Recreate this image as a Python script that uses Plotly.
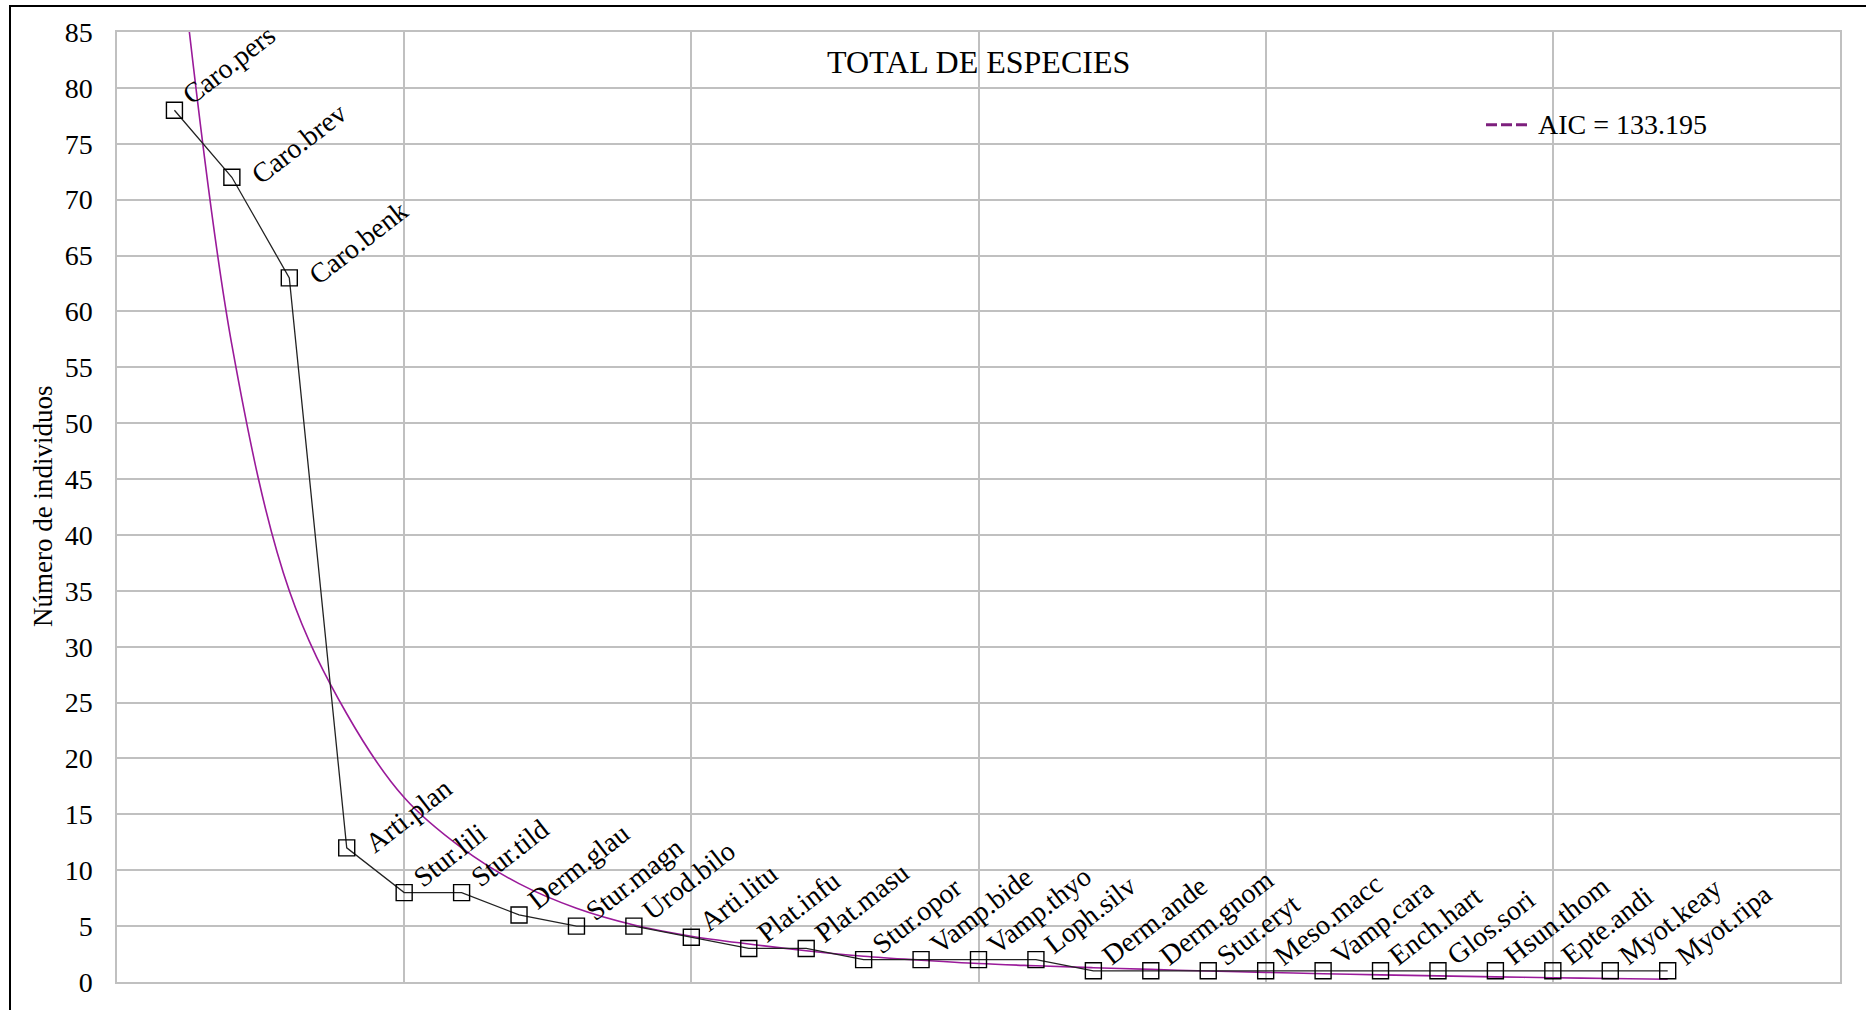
import plotly.graph_objects as go

# Species abbreviations in rank order
species = [
    "Caro.pers", "Caro.brev", "Caro.benk", "Arti.plan", "Stur.lili", "Stur.tild",
    "Derm.glau", "Stur.magn", "Urod.bilo", "Arti.litu", "Plat.infu", "Plat.masu",
    "Stur.opor", "Vamp.bide", "Vamp.thyo", "Loph.silv", "Derm.ande", "Derm.gnom",
    "Stur.eryt", "Meso.macc", "Vamp.cara", "Ench.hart", "Glos.sori", "Hsun.thom",
    "Epte.andi", "Myot.keay", "Myot.ripa",
]
ranks = list(range(1, len(species) + 1))

# Observed abundance per species
abundance = [78, 72, 63, 12, 8, 8, 6, 5, 5, 4, 3, 3, 2, 2, 2, 2,
             1, 1, 1, 1, 1, 1, 1, 1, 1, 1, 1]

# Fitted rank-abundance model values
fitted = [97, 57, 35, 24, 16.5, 12, 8.8, 6.6, 5.1, 4.1, 3.4, 2.8, 2.3, 1.95,
          1.65, 1.45, 1.28, 1.13, 0.98, 0.86, 0.74, 0.64, 0.55, 0.46, 0.38,
          0.31, 0.24]

model_label = "AIC = 133.195"
chart_title = "TOTAL DE ESPECIES"
y_title = "Número de individuos"

FONT = "Liberation Serif"
GRID = "#c0c0c0"
PURPLE = "#9a1a9a"

W, H = 1866, 1010
ML, MR, MT, MB = 117, 26, 32, 26
PW, PH = W - ML - MR, H - MT - MB


def px_x(px):
    return (px - ML) / PW


def px_y(py):
    return (H - MB - py) / PH


fig = go.Figure()

fig.add_trace(go.Scatter(
    x=ranks, y=fitted, mode="lines",
    line=dict(color=PURPLE, width=1.6, shape="spline", smoothing=1.0),
    showlegend=False, hoverinfo="skip",
))

fig.add_trace(go.Scatter(
    x=ranks, y=abundance, mode="lines+markers",
    line=dict(color="#222222", width=1.3),
    marker=dict(symbol="square-open", size=16, color="black",
                line=dict(width=1.4, color="black")),
    showlegend=False, cliponaxis=False,
))

# Labels sitting further out from their points (steep part of the curve)
label_nudge = {"Caro.brev": (11, -12), "Caro.benk": (11, -12), "Arti.plan": (10, -10)}

annotations = []
for r, v, name in zip(ranks, abundance, species):
    dx, dy = label_nudge.get(name, (0, 0))
    annotations.append(dict(
        x=r, y=v, xref="x", yref="y", text=name, showarrow=False,
        textangle=-38, xanchor="left", yanchor="bottom",
        xshift=dx, yshift=-3 + dy,
        font=dict(family=FONT, size=28, color="black"),
    ))

annotations.append(dict(
    x=0.5, y=px_y(62), xref="paper", yref="paper",
    text=chart_title, showarrow=False, xanchor="center", yanchor="middle",
    font=dict(family=FONT, size=32, color="black"),
))
annotations.append(dict(
    x=px_x(43), y=0.5, xref="paper", yref="paper",
    text=y_title, showarrow=False, textangle=-90,
    xanchor="center", yanchor="middle",
    font=dict(family=FONT, size=27, color="black"),
))
# Legend text for the fitted model
annotations.append(dict(
    x=px_x(1536), y=px_y(125), xref="paper", yref="paper",
    text=model_label, showarrow=False, xanchor="left", yanchor="middle",
    font=dict(family=FONT, size=28, color="black"),
))

fig.update_layout(
    width=W, height=H,
    margin=dict(l=ML, r=MR, t=MT, b=MB),
    paper_bgcolor="white", plot_bgcolor="white",
    font=dict(family=FONT, size=26, color="black"),
    annotations=annotations,
    showlegend=False,
    shapes=[
        # outer frame
        dict(type="rect", xref="paper", yref="paper",
             x0=px_x(10), x1=px_x(W + 20), y0=-0.2, y1=px_y(6),
             line=dict(color="black", width=2), layer="below"),
        # legend key for the fitted model
        dict(type="line", xref="paper", yref="paper",
             x0=px_x(1486), x1=px_x(1531), y0=px_y(125), y1=px_y(125),
             line=dict(color="#7d1f7d", width=3, dash="11px,4px")),
    ],
)

fig.update_xaxes(
    range=[0, 30], dtick=5, showticklabels=False, ticks="",
    showgrid=True, gridcolor=GRID, gridwidth=1.5,
    showline=True, linecolor=GRID, linewidth=1.5, mirror=True,
    zeroline=False,
)
fig.update_yaxes(
    range=[0, 85], dtick=5, tickmode="linear", tick0=0,
    ticks="outside", ticklen=17, tickcolor="rgba(0,0,0,0)",
    tickfont=dict(family=FONT, size=28, color="black"),
    showgrid=True, gridcolor=GRID, gridwidth=1.5,
    showline=True, linecolor=GRID, linewidth=1.5, mirror=True,
    zeroline=False,
)

fig.write_html("out.html")
